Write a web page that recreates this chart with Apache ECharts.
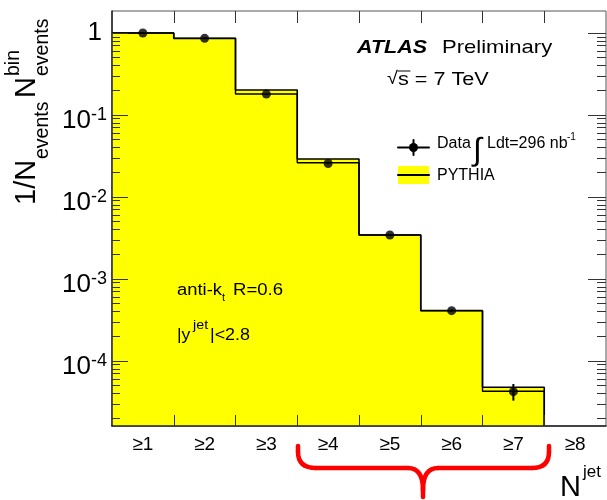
<!DOCTYPE html>
<html>
<head>
<meta charset="utf-8">
<script src="https://cdn.jsdelivr.net/npm/echarts@6/dist/echarts.min.js"></script>
<style>
  html, body { margin: 0; padding: 0; background: #fff; }
  #chart { width: 607px; height: 500px; }
</style>
</head>
<body>
<div id="chart"></div>
<script>
// Jet multiplicity bins (inclusive)
const binLabels = ['≥1', '≥2', '≥3', '≥4', '≥5', '≥6', '≥7', '≥8'];
// PYTHIA prediction (filled histogram) and its companion line histogram
const pythiaFill = [1.0, 0.86, 0.202, 0.0291, 0.00344, 0.000411, 0.0000478, null];
const pythiaLine = [1.0, 0.86, 0.180, 0.0262, 0.00344, 0.000411, 0.0000427, null];
// Measured data with statistical error band edges
const dataVals  = [1.0, 0.861, 0.180, 0.0256, 0.00344, 0.000411, 0.0000422, null];
const dataHigh  = [1.01, 0.868, 0.182, 0.0261, 0.00353, 0.000428, 0.0000524, null];
const dataLow   = [0.99, 0.854, 0.178, 0.0251, 0.00335, 0.000395, 0.0000328, null];
// Decade exponents shown on the y axis
const yTickExps = [-4, -3, -2, -1, 0];

const FONT = '"Liberation Sans", Arial, Helvetica, sans-serif';
const Y_MIN = 1.61e-5;
const Y_MAX = 1.855;

const majorTicks = yTickExps.map(e => Math.pow(10, e));
const minorTicks = [];
for (let e = -5; e <= 0; e++) {
  for (let m = 2; m <= 9; m++) {
    const v = m * Math.pow(10, e);
    if (v > Y_MIN && v < Y_MAX) minorTicks.push(v);
  }
}
const binCenters = binLabels.map((_, i) => i + 1);
const binEdges = binLabels.slice(1).map((_, i) => i + 1.5);

// Step outline: one point on each bin's left edge, then drop to the floor
function stepData(vals) {
  const pts = [];
  let last = -1;
  vals.forEach((v, i) => {
    if (v != null) { pts.push([i + 0.5, v]); last = i; }
  });
  pts.push([last + 1.5, Y_MIN]);
  return pts;
}

const points = [];
const bars = [];
dataVals.forEach((v, i) => {
  if (v != null) {
    points.push([binCenters[i], v]);
    bars.push([binCenters[i], dataLow[i], dataHigh[i]]);
  }
});

function yLabel(v) {
  const e = Math.round(Math.log10(v));
  return e === 0 ? '{o|1}' : '{b|10}{s|' + e + '}';
}

function txt(x, y, text, size, extra) {
  extra = extra || {};
  return {
    type: 'text', x: x, y: y,
    scaleX: extra.scaleX || 1,
    style: {
      text: text,
      font: (extra.style || 'normal') + ' ' + (extra.weight || 'normal') + ' ' + size + 'px ' + FONT,
      fill: extra.color || '#000',
      textAlign: extra.align || 'left',
      textVerticalAlign: 'middle'
    },
    z: 100
  };
}

function seg(x1, y1, x2, y2, color, w) {
  return { type: 'line', z: 100, shape: { x1: x1, y1: y1, x2: x2, y2: y2 },
           style: { stroke: color, lineWidth: w, lineCap: 'round' } };
}
function curve(x1, y1, cx, cy, x2, y2, color, w) {
  return { type: 'bezierCurve', z: 100,
           shape: { x1: x1, y1: y1, cpx1: cx, cpy1: cy, x2: x2, y2: y2 },
           style: { stroke: color, lineWidth: w, fill: null, lineCap: 'round' } };
}

const chart = echarts.init(document.getElementById('chart'), null, { renderer: 'canvas' });

const RED = '#ff0000';
const BW = 4.5;
const TICK = { color: '#333', width: 1 };

const option = {
  animation: false,
  backgroundColor: '#fff',
  grid: {
    left: 112, top: 11, width: 494, height: 415,
    show: true, borderColor: '#555', borderWidth: 1, backgroundColor: 'transparent'
  },
  xAxis: [
    {
      type: 'value', min: 0.5, max: 8.5, position: 'bottom', z: 20,
      axisLine: { show: true, onZero: false, lineStyle: { color: '#222', width: 1.5 } },
      axisTick: { show: true, inside: true, length: 11, customValues: binEdges, lineStyle: TICK },
      axisLabel: {
        show: true, customValues: binCenters, margin: 9,
        formatter: v => binLabels[Math.round(v) - 1],
        color: '#000', fontFamily: FONT, fontSize: 19
      },
      splitLine: { show: false }
    },
    {
      type: 'value', min: 0.5, max: 8.5, position: 'top', z: 20,
      axisLine: { show: false, onZero: false },
      axisTick: { show: true, inside: true, length: 12, customValues: binEdges, lineStyle: TICK },
      axisLabel: { show: false },
      splitLine: { show: false }
    }
  ],
  yAxis: [
    {
      type: 'log', min: Y_MIN, max: Y_MAX, position: 'left', logBase: 10, z: 20,
      axisLine: { show: true, lineStyle: { color: '#222', width: 1.5 } },
      axisTick: { show: true, inside: true, length: 16, customValues: majorTicks, lineStyle: TICK },
      axisLabel: {
        show: true, customValues: majorTicks, margin: 5,
        formatter: yLabel,
        rich: {
          o: { fontFamily: FONT, fontSize: 26, color: '#000', padding: [0, 5, 0, 0] },
          b: { fontFamily: FONT, fontSize: 26, color: '#000', padding: [12, 0, 0, 0] },
          s: { fontFamily: FONT, fontSize: 18, color: '#000', verticalAlign: 'top', padding: [10, 0, 0, 0] }
        }
      },
      splitLine: { show: false }
    },
    {
      type: 'log', min: Y_MIN, max: Y_MAX, position: 'left', logBase: 10, z: 20,
      axisLine: { show: false },
      axisTick: { show: true, inside: true, length: 8, customValues: minorTicks, lineStyle: TICK },
      axisLabel: { show: false },
      splitLine: { show: false }
    },
    {
      type: 'log', min: Y_MIN, max: Y_MAX, position: 'right', logBase: 10, z: 20,
      axisLine: { show: false },
      axisTick: { show: true, inside: true, length: 18, customValues: majorTicks, lineStyle: TICK },
      axisLabel: { show: false },
      splitLine: { show: false }
    },
    {
      type: 'log', min: Y_MIN, max: Y_MAX, position: 'right', logBase: 10, z: 20,
      axisLine: { show: false },
      axisTick: { show: true, inside: true, length: 9, customValues: minorTicks, lineStyle: TICK },
      axisLabel: { show: false },
      splitLine: { show: false }
    }
  ],
  series: [
    {
      name: 'PYTHIA', type: 'line', step: 'end', xAxisIndex: 0, yAxisIndex: 0,
      data: stepData(pythiaFill), symbol: 'none',
      lineStyle: { color: '#000', width: 1.6 },
      areaStyle: { color: '#ffff00', opacity: 1, origin: 'start' },
      z: 2
    },
    {
      name: 'PYTHIA line', type: 'line', step: 'end', xAxisIndex: 0, yAxisIndex: 0,
      data: stepData(pythiaLine), symbol: 'none',
      lineStyle: { color: '#000', width: 1.4 },
      z: 3
    },
    {
      name: 'Data errors', type: 'custom', xAxisIndex: 0, yAxisIndex: 0,
      data: bars,
      encode: { x: 0, y: [1, 2] },
      renderItem: function (params, api) {
        const lo = api.coord([api.value(0), api.value(1)]);
        const hi = api.coord([api.value(0), api.value(2)]);
        return {
          type: 'line',
          shape: { x1: lo[0], y1: lo[1], x2: hi[0], y2: hi[1] },
          style: { stroke: '#000', lineWidth: 2 }
        };
      },
      z: 4
    },
    {
      name: 'Data', type: 'scatter', xAxisIndex: 0, yAxisIndex: 0,
      data: points, symbol: 'circle', symbolSize: 9,
      itemStyle: { color: '#000' },
      z: 5
    }
  ],
  graphic: [
    // Experiment label
    txt(357, 48, 'ATLAS', 19, { weight: 'bold', style: 'italic', scaleX: 1.13 }),
    txt(442, 48, 'Preliminary', 19, { scaleX: 1.16 }),
    txt(387, 79, '√', 18, { scaleX: 1.1 }),
    seg(398, 71, 410, 71, '#000', 1),
    txt(398, 80, 's = 7 TeV', 18, { scaleX: 1.2 }),
    // Legend: data marker
    seg(398, 147.5, 429, 147.5, '#000', 2),
    seg(413.5, 140, 413.5, 155, '#000', 2),
    { type: 'circle', shape: { cx: 413.5, cy: 147.5, r: 4.5 }, style: { fill: '#000' }, z: 100 },
    txt(437, 144, 'Data', 16),
    txt(473, 151, '∫', 32),
    txt(487, 144, 'Ldt=296 nb', 16),
    txt(567, 137, '-1', 10),
    // Legend: PYTHIA swatch
    { type: 'rect', shape: { x: 398, y: 166, width: 31, height: 18 }, style: { fill: '#ffff00' }, z: 100 },
    seg(398, 175, 429, 175, '#000', 2),
    txt(437, 176, 'PYTHIA', 16),
    // Jet selection
    txt(177, 291, 'anti-k', 16, { scaleX: 1.15 }),
    txt(222, 298, 't', 11),
    txt(233, 291, 'R=0.6', 16, { scaleX: 1.16 }),
    txt(177, 336, '|y', 16, { scaleX: 1.1 }),
    txt(193, 325, 'jet', 13, { scaleX: 1.1 }),
    txt(210, 336, '|<2.8', 16, { scaleX: 1.12 }),
    // X axis title
    txt(560, 488, 'N', 29),
    txt(583, 472, 'jet', 17),
    // Y axis title (rotated)
    {
      type: 'group', x: 27, y: 205, rotation: Math.PI / 2, z: 100,
      children: [
        txt(0, 0, '1/N', 29),
        txt(46, 16, 'events', 19.5),
        txt(107, 0, 'N', 29),
        txt(129, -13, 'bin', 19.5),
        txt(129, 16, 'events', 19.5)
      ]
    },
    // Brace under the ≥4 … ≥7 bins
    seg(298, 446, 298, 452, RED, BW),
    curve(298, 452, 298, 468, 316, 468, RED, BW),
    seg(316, 468, 408, 468, RED, BW),
    curve(408, 468, 423, 468, 423, 490, RED, BW),
    seg(423, 490, 423, 497, RED, BW),
    curve(423, 490, 423, 468, 438, 468, RED, BW),
    seg(438, 468, 532, 468, RED, BW),
    curve(532, 468, 549, 468, 549, 452, RED, BW),
    seg(549, 452, 549, 446, RED, BW)
  ]
};

chart.setOption(option);
</script>
</body>
</html>
